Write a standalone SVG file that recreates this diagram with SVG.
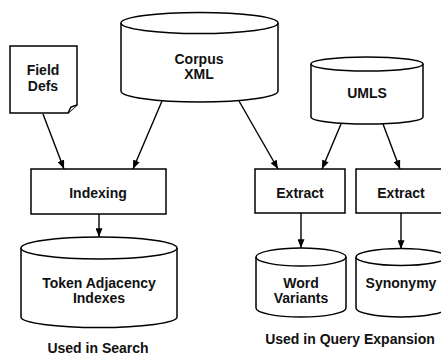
<svg xmlns="http://www.w3.org/2000/svg" width="441" height="356" viewBox="0 0 441 356">
  <style>
    .shape { fill: #ffffff; stroke: #000000; stroke-width: 1.5; }
    .label { font-family: "Liberation Sans", Arial, sans-serif; font-weight: bold; font-size: 14px; fill: #111111; text-anchor: middle; }
    .edge { stroke: #000000; stroke-width: 1.4; fill: none; marker-end: url(#arrow); }
  </style>
  <defs>
    <marker id="arrow" viewBox="0 0 10 8" refX="10" refY="4" markerWidth="9" markerHeight="7" markerUnits="userSpaceOnUse" orient="auto">
      <path d="M0,0 L10,4 L0,8 z" fill="#000000"/>
    </marker>
  </defs>
  <rect width="441" height="356" fill="#ffffff"/>

  <!-- connectors -->
  <g id="connectors">
    <line class="edge" x1="43" y1="114" x2="64" y2="169"/>
    <line class="edge" x1="162" y1="101" x2="133" y2="169"/>
    <line class="edge" x1="239" y1="101" x2="278" y2="169"/>
    <line class="edge" x1="341" y1="124" x2="322" y2="169"/>
    <line class="edge" x1="383" y1="124" x2="400" y2="169"/>
    <line class="edge" x1="99" y1="214" x2="99" y2="237"/>
    <line class="edge" x1="301" y1="213" x2="301" y2="248"/>
    <line class="edge" x1="401" y1="213" x2="401" y2="249"/>
  </g>

  <!-- Field Defs: note with a folded corner -->
  <g id="field-defs">
    <path class="shape" d="M10,46 L77,46 L77,105 L68,113 L10,113 Z"/>
    <path class="shape" d="M68,113 L71,107 L77,105" stroke-width="1.2"/>
    <text class="label" x="43" y="75">Field</text>
    <text class="label" x="43" y="91">Defs</text>
  </g>

  <!-- Corpus XML store -->
  <g id="corpus-xml">
    <path class="shape" d="M121,23 L121,91 A78.5,11 0 0 0 278,91 L278,23"/>
    <ellipse class="shape" cx="199.5" cy="23" rx="78.5" ry="10.5"/>
    <text class="label" x="199" y="64">Corpus</text>
    <text class="label" x="199" y="79">XML</text>
  </g>

  <!-- UMLS store -->
  <g id="umls">
    <path class="shape" d="M311,64 L311,117 A56,7 0 0 0 423,117 L423,64"/>
    <ellipse class="shape" cx="367" cy="64" rx="56" ry="7"/>
    <text class="label" x="367" y="98">UMLS</text>
  </g>

  <!-- Indexing process -->
  <g id="indexing">
    <rect class="shape" x="31" y="169" width="135" height="45"/>
    <text class="label" x="98" y="198">Indexing</text>
  </g>

  <!-- Extract processes -->
  <g id="extract-variants">
    <rect class="shape" x="255" y="169" width="90" height="44"/>
    <text class="label" x="300" y="198">Extract</text>
  </g>
  <g id="extract-synonyms">
    <rect class="shape" x="356" y="169" width="90" height="44"/>
    <text class="label" x="401" y="198">Extract</text>
  </g>

  <!-- Token Adjacency Indexes store -->
  <g id="token-indexes">
    <path class="shape" d="M21,248 L21,317 A78,10.5 0 0 0 177,317 L177,248"/>
    <ellipse class="shape" cx="99" cy="248" rx="78" ry="11"/>
    <text class="label" x="99" y="288">Token Adjacency</text>
    <text class="label" x="99" y="303">Indexes</text>
  </g>

  <!-- Word Variants store -->
  <g id="word-variants">
    <path class="shape" d="M256,257 L256,308 A45,9 0 0 0 346,308 L346,257"/>
    <ellipse class="shape" cx="301" cy="257" rx="45" ry="9"/>
    <text class="label" x="301" y="288">Word</text>
    <text class="label" x="301" y="303">Variants</text>
  </g>

  <!-- Synonymy store -->
  <g id="synonymy">
    <path class="shape" d="M356,257 L356,308 A45,9 0 0 0 446,308 L446,257"/>
    <ellipse class="shape" cx="401" cy="257" rx="45" ry="8.5"/>
    <text class="label" x="401" y="288">Synonymy</text>
  </g>

  <!-- captions -->
  <g id="captions">
    <text class="label" x="98" y="353">Used in Search</text>
    <text class="label" x="350" y="344">Used in Query Expansion</text>
  </g>
</svg>
